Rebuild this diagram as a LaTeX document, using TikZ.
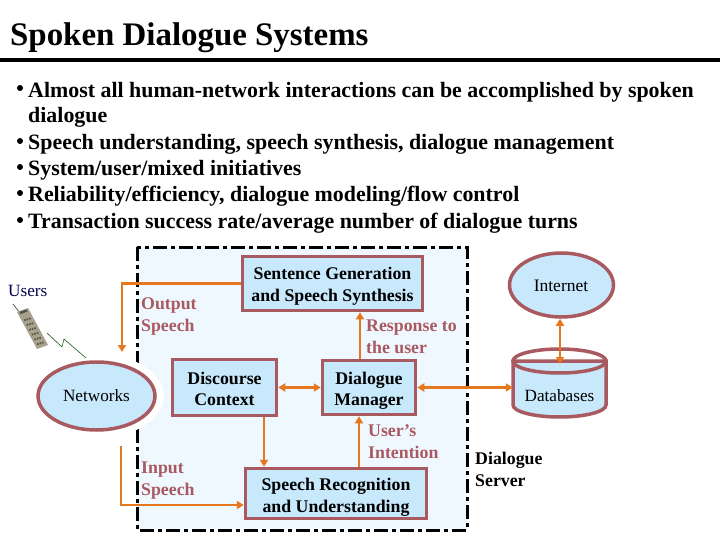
\documentclass[tikz,border=0pt]{standalone}
\usepackage{fontspec}
\setmainfont{Liberation Serif}
\usetikzlibrary{arrows.meta,shapes.geometric,calc}
\definecolor{boxfill}{HTML}{C8E8FC}
\definecolor{boxline}{HTML}{A85A60}
\definecolor{panel}{HTML}{F0F8FF}
\definecolor{flow}{HTML}{E5771F}
\definecolor{usersblue}{HTML}{000050}
\definecolor{phonebody}{HTML}{A8A28C}
\definecolor{phonekey}{HTML}{55524A}
\definecolor{boltgreen}{HTML}{1E5A1E}
\newcommand{\fsz}[1]{\fontsize{#1}{22}\selectfont}
\tikzset{
  x=1pt,y=-1pt,
  boxnode/.style={draw=boxline,fill=boxfill,line width=3.5pt,inner sep=0pt},
  boxtext/.style={align=center,inner sep=0pt,font=\bfseries\fsz{17.8},text=black},
  ovalnode/.style={ellipse,draw=boxline,fill=boxfill,line width=3.5pt,inner sep=0pt,font=\fsz{17.2},text=black},
  caption/.style={align=left,anchor=north west,inner sep=0pt,font=\bfseries\fsz{17.8},text=boxline},
  bullettext/.style={anchor=base west,inner sep=0pt,font=\bfseries\fsz{21.9},text=black},
  bulletdot/.style={circle,fill=black,inner sep=0pt,minimum size=6pt},
  flowline/.style={draw=flow,line width=2.3pt,-{Triangle[length=7pt,width=8pt]}},
  flowboth/.style={draw=flow,line width=2.3pt,{Triangle[length=7pt,width=8pt]}-{Triangle[length=7pt,width=8pt]}},
}
\begin{document}
\begin{tikzpicture}
\useasboundingbox (0,0) rectangle (720,540);
\fill[white] (0,0) rectangle (720,540);
% title
\node[anchor=base west,inner sep=0pt,font=\bfseries\fsz{32.9}] (title) at (10,46) {Spoken Dialogue Systems};
\fill[black] (0,58.5) rectangle (720,62.5);
% bullets
\node[bulletdot] (b1) at (20,88) {};
\node[bullettext] (t1) at (28,97.5) {Almost all human-network interactions can be accomplished by spoken};
\node[bullettext] (t1b) at (28,122.5) {dialogue};
\node[bulletdot] (b2) at (20,141) {};
\node[bullettext] (t2) at (28,149.5) {Speech understanding, speech synthesis, dialogue management};
\node[bulletdot] (b3) at (20,167) {};
\node[bullettext] (t3) at (28,175.5) {System/user/mixed initiatives};
\node[bulletdot] (b4) at (20,193) {};
\node[bullettext] (t4) at (28,202) {Reliability/efficiency, dialogue modeling/flow control};
\node[bulletdot] (b5) at (20,220) {};
\node[bullettext] (t5) at (28,228.5) {Transaction success rate/average number of dialogue turns};
% panel
\draw[fill=panel,draw=black,line width=3pt,dash pattern=on 14pt off 4pt on 4pt off 4pt] (137,247) rectangle (467,530);
% halo
\fill[white] (97,396) ellipse [x radius=67,y radius=42];
% nodes
\node[boxnode,minimum width=180pt,minimum height=54pt] (sent) at (332.5,283.5) {};
\node[boxtext,yshift=-3pt] (senttext) at (sent.center) {Sentence Generation\\and Speech Synthesis};
\node[boxnode,minimum width=104pt,minimum height=56pt] (disc) at (224.5,387.5) {};
\node[boxtext,yshift=-1pt] (disctext) at (disc.center) {Discourse\\[-1pt]Context};
\node[boxnode,minimum width=93pt,minimum height=54pt] (dial) at (369,387.5) {};
\node[boxtext,yshift=-3pt] (dialtext) at (dial.center) {Dialogue\\[-1pt]Manager};
\node[boxnode,minimum width=181pt,minimum height=50pt] (rec) at (336,493.5) {};
\node[boxtext,yshift=-4pt] (rectext) at (rec.center) {Speech Recognition\\and Understanding};
\node[ovalnode,minimum width=117pt,minimum height=68pt] (net) at (96.5,396) {Networks};
\node[ovalnode,minimum width=104pt,minimum height=64pt] (inet) at (561.5,285) {};
\node[font=\fsz{17.5},inner sep=0pt] (inettext) at (561,286) {Internet};
% database
\draw[fill=boxfill,draw=boxline,line width=3.5pt] (513,361) -- (513,405) arc[start angle=180,end angle=0,x radius=46.5,y radius=12] -- (606,361) -- cycle;
\draw[draw=boxline,line width=3.5pt] (559.5,361) ellipse[x radius=46.5,y radius=12];
\node[inner sep=0pt,minimum width=93pt,minimum height=68pt] (db) at (559.5,383) {};
\node[font=\fsz{17.2},inner sep=0pt] (dbtext) at (559.5,396) {Databases};
% connectors
\coordinate (outend) at (122,352);
\coordinate (instart) at (121,446);
\coordinate (dbtop) at (560,364);
\draw[flowline] (sent.west) -| (outend);
\draw[flowline] (instart) |- ([yshift=-11.5pt]rec.west);
\draw[flowline] ([xshift=39.5pt]disc.south) -- ([xshift=39.5pt]disc.south |- rec.north);
\draw[flowboth] (disc.east) -- (dial.west);
\draw[flowline] ([xshift=-9pt]dial.north) -- ([xshift=-9pt]dial.north |- sent.south);
\draw[flowline] ([xshift=-10pt]dial.south |- rec.north) -- ([xshift=-10pt]dial.south);
\draw[flowboth] (db.west |- dial.east) -- (dial.east);
\draw[flowboth] (inet.south -| dbtop) -- (dbtop);
% captions
\node[caption] (cout) at (141,298) {Output\\Speech};
\node[caption] (cin) at (141,462) {Input\\Speech};
\node[caption] (cresp) at (366,320) {Response to\\the user};
\node[caption] (cuser) at (368,424) {User’s\\Intention};
\node[caption,text=black] (cds) at (475,452) {Dialogue\\Server};
\node[anchor=base west,inner sep=0pt,font=\fsz{17.2},text=usersblue] (users) at (8,296) {Users};
% phone
\draw[black!70,line width=.7pt] (13,304) -- (20,313);
\fill[phonebody] (17,312) -- (28,308) -- (48,345) -- (37,349) -- cycle;
\foreach \t in {.25,.38,.51,.64,.77,.9}{
  \draw[phonekey,line width=1.7pt,dash pattern=on 1.6pt off 1pt] ($(17,312)!\t!(37,349)+(2,-1)$) -- ($(28,308)!\t!(48,345)+(-2,1)$);
}
\draw[phonekey,line width=2.4pt] (20,313) -- (27,310.5);
% lightning
\draw[boltgreen,line width=.6pt] (47,333) -- (62,347) -- (64,339) -- (86,358);
\end{tikzpicture}
\end{document}
